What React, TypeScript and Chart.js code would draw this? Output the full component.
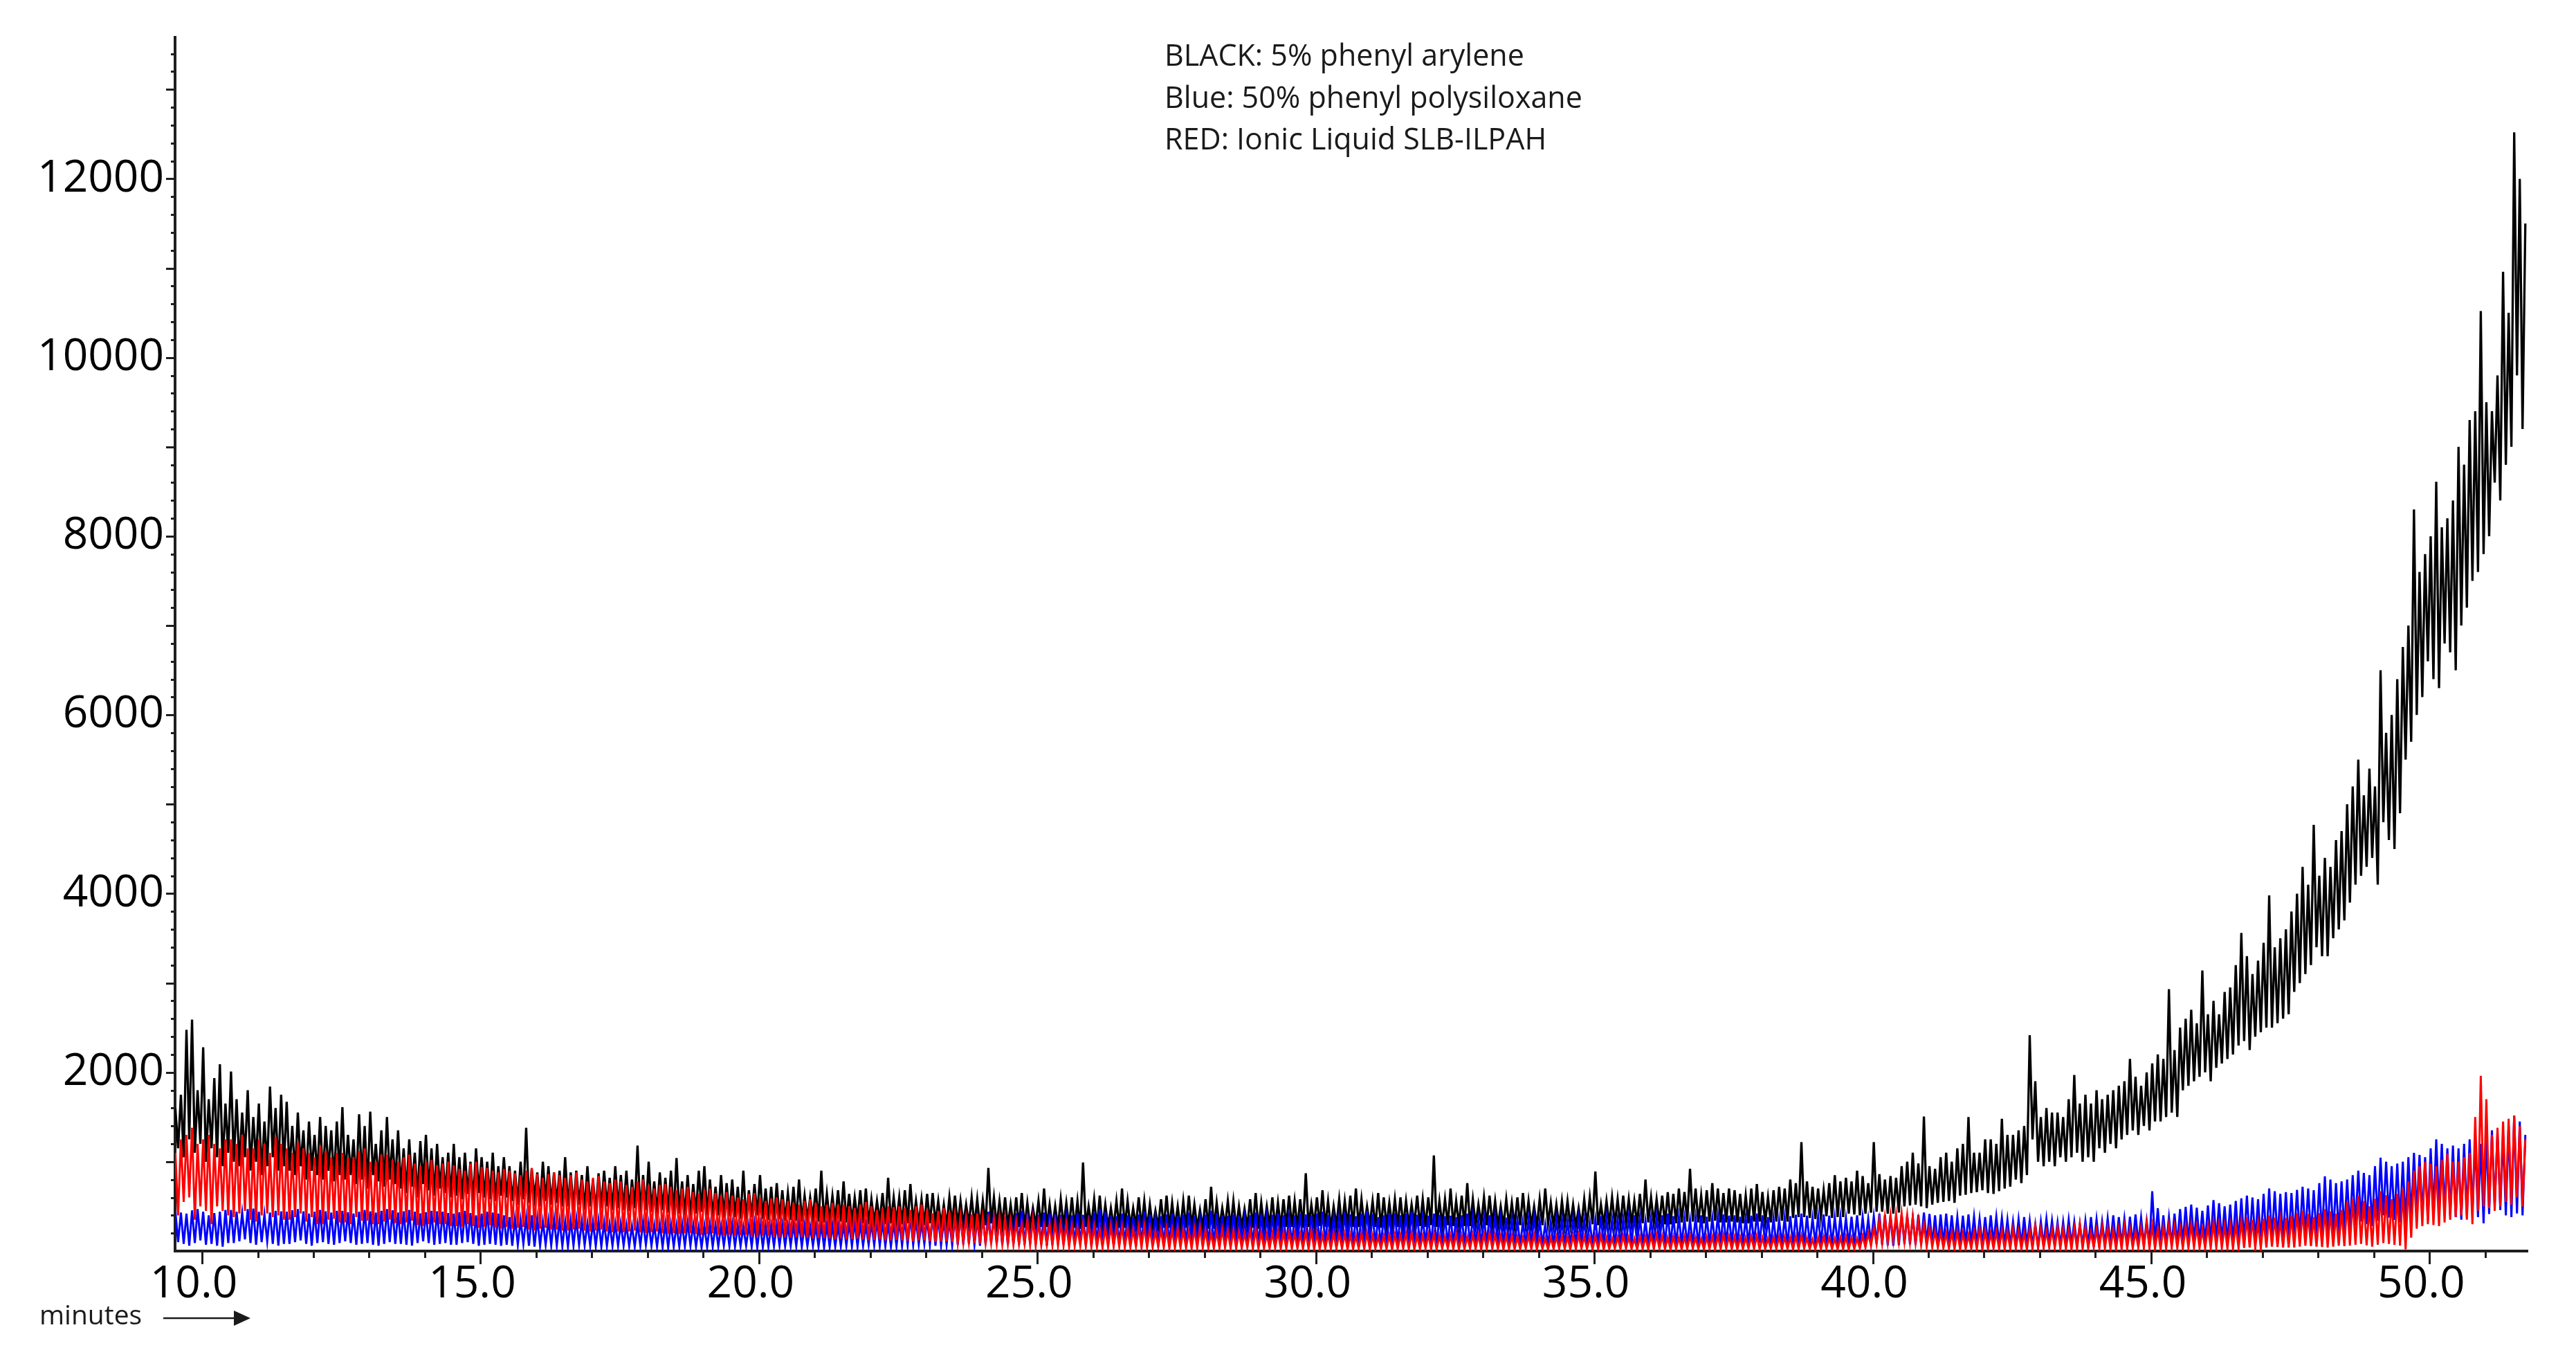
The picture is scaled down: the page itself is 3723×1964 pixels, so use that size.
import React, { useEffect, useRef } from "react";
import { Chart, registerables } from "chart.js";

Chart.register(...registerables);

// ---- axis settings ----
const T_START = 9.52;
const T_STEP = 0.05;
const X_MIN = 9.515;
const X_MAX = 51.76;
const Y_MAX = 13580;
const X_LABELS = [10, 15, 20, 25, 30, 35, 40, 45, 50];
const Y_LABELS = [2000, 4000, 6000, 8000, 10000, 12000];
const LEGEND_LINES = [
  "BLACK: 5% phenyl arylene",
  "Blue: 50% phenyl polysiloxane",
  "RED: Ionic Liquid SLB-ILPAH",
];
const X_TITLE = "minutes";

// ---- series values, one every 0.05 min starting at 9.52 min (one row = 1 min) ----
const BLACK = [
  1600,1150,1750,1050,2475,1250,2590,1100,1800,1200,2280,1000,1700,1150,1935,1050,2090,950,1650,1100,
  2010,1000,1700,950,1550,1050,1800,900,1500,1000,1650,850,1450,950,1840,1050,1600,900,1750,950,
  1670,900,1400,850,1550,950,1350,800,1450,900,1300,850,1500,800,1400,900,1350,780,1450,850,
  1610,800,1300,850,1250,750,1530,800,1400,700,1560,850,1200,780,1350,720,1500,800,1250,750,
  1350,700,1150,650,1250,720,1100,600,1230,750,1300,680,1150,620,1200,700,1050,650,1100,600,
  1200,620,1050,580,1100,640,1000,560,1150,650,1050,600,1000,580,1100,560,950,620,1050,600,
  950,560,900,520,1000,580,1380,540,920,600,880,500,1000,560,950,520,880,540,900,500,
  1050,500,880,480,900,520,850,460,950,500,800,450,870,480,900,500,820,460,950,480,
  850,460,900,450,800,480,1180,420,850,460,1000,440,780,420,880,460,820,430,900,400,
  1040,420,780,400,850,380,750,420,900,440,950,400,800,380,720,400,850,370,760,390,
  800,380,720,360,900,350,680,380,750,400,850,360,700,350,720,340,760,360,680,340,
  650,350,720,340,800,330,620,350,600,370,700,330,900,320,640,340,620,340,680,330,
  780,320,640,330,600,340,680,310,700,300,580,320,560,330,650,300,820,310,600,320,
  600,300,680,310,750,320,560,300,580,290,640,310,650,310,560,290,520,280,600,300,
  620,290,560,300,520,300,600,280,580,270,560,290,930,310,600,280,560,290,600,280,
  520,280,600,270,650,260,540,280,480,290,560,270,700,270,520,260,500,260,580,280,
  540,270,600,260,560,250,990,270,500,280,580,260,620,260,520,270,480,270,560,260,
  700,260,560,270,480,280,600,260,560,250,520,270,450,270,580,260,620,260,540,270,
  500,250,560,260,620,270,520,260,460,260,580,250,720,250,540,270,480,280,560,260,
  560,260,500,270,470,270,580,260,650,250,540,270,500,280,600,260,540,260,580,270,
  620,270,560,260,580,260,870,270,520,290,600,280,680,270,560,260,500,280,580,270,
  560,280,620,270,700,270,580,280,500,290,560,270,650,260,600,280,540,280,580,270,
  600,280,560,290,520,300,620,280,580,270,600,290,1070,270,560,290,580,290,700,280,
  560,290,620,280,760,280,580,290,520,300,600,290,620,290,560,280,500,280,580,290,
  540,280,600,290,650,290,560,280,500,270,580,290,700,300,540,280,520,280,560,290,
  560,290,520,280,480,280,580,290,600,300,890,290,520,290,560,300,600,300,580,290,
  620,310,580,300,560,300,640,310,800,320,600,310,580,310,620,300,660,300,640,310,
  700,320,660,330,920,330,700,320,620,310,680,330,760,340,700,320,650,320,700,330,
  680,320,640,310,620,310,700,330,750,330,660,320,600,320,680,330,720,340,700,330,
  800,370,760,380,1220,380,780,370,720,360,700,380,680,390,760,370,850,380,780,380,
  820,420,780,410,900,400,840,420,760,430,1220,440,860,440,800,420,840,420,820,430,
  950,500,1000,510,1100,520,980,500,1506,480,950,520,920,540,1050,550,1100,560,1000,540,
  1150,620,1200,630,1500,650,1100,660,1100,680,1250,650,1250,640,1200,670,1480,700,1300,720,
  1300,800,1350,760,1400,850,2415,1250,1900,1000,1500,950,1600,1000,1550,950,1550,1050,1500,1000,
  1700,1050,1970,1100,1650,1000,1750,1050,1650,1000,1800,1150,1700,1100,1750,1200,1800,1150,1850,1250,
  1900,1300,2150,1350,1950,1300,1850,1400,2000,1350,2100,1450,2200,1450,2150,1500,2930,1550,2250,1500,
  2500,1800,2600,1850,2700,1900,2550,1950,3140,2000,2650,1900,2800,2050,2650,2100,2900,2150,2950,2200,
  3200,2300,3560,2350,3300,2250,3100,2400,3250,2450,3450,2500,3980,2500,3400,2550,3500,2600,3600,2650,
  3800,2900,4000,3000,4300,3100,4100,3200,4770,3400,4200,3300,4400,3300,4300,3500,4600,3600,4700,3700,
  5000,3900,5200,4100,5500,4200,5100,4300,5400,4400,5200,4100,6500,4800,5800,4600,6000,4500,6400,4900,
  6760,5500,7000,5700,8300,6000,7600,6200,7800,6600,8000,6400,8610,6300,8100,6800,8200,6700,8400,6500,
  9000,7000,8800,7200,9300,7500,9400,7600,10520,7800,9500,8000,9400,8600,9800,8400,10960,8800,10500,9000,
  12520,9800,12000,9200,11500,
];

const BLUE = [
  450,100,430,80,420,60,455,90,470,120,440,70,400,80,425,60,440,50,460,90,
  460,90,440,110,430,130,470,90,475,70,440,100,410,110,430,80,450,60,445,80,
  440,80,455,100,470,120,445,80,420,60,440,90,460,100,445,80,430,70,450,90,
  450,110,435,90,420,70,440,80,460,90,445,70,430,60,450,80,470,100,455,80,
  430,80,445,70,460,60,440,90,420,110,435,90,450,70,445,80,440,90,425,70,
  420,70,435,90,450,100,425,80,400,60,420,70,440,80,430,70,420,60,400,70,
  380,60,365,70,350,80,375,60,400,50,365,60,330,70,345,65,360,60,340,55,
  330,50,345,60,360,70,335,65,310,60,325,55,340,50,320,55,300,60,310,60,
  310,60,295,55,280,50,305,60,330,70,310,60,290,50,300,45,310,40,300,50,
  290,50,305,55,320,60,295,50,270,40,285,45,300,50,290,55,280,60,290,55,
  300,50,285,55,270,60,290,50,310,40,295,45,280,50,285,55,290,60,295,55,
  280,60,295,55,310,50,290,55,270,60,285,50,300,40,295,45,290,50,285,55,
  300,60,315,55,330,50,310,60,290,70,315,65,340,60,325,55,310,50,320,55,
  340,60,360,65,380,70,350,75,320,80,360,70,400,60,375,65,350,70,345,65,
  380,70,400,75,420,80,390,70,360,60,400,75,440,90,415,80,390,70,385,70,
  400,80,425,75,450,70,415,80,380,90,405,75,430,60,420,70,410,80,405,75,
  380,70,400,80,420,90,405,75,390,60,430,70,470,80,435,75,400,70,390,75,
  420,80,400,70,380,60,410,75,440,90,405,80,370,70,390,75,410,80,415,80,
  390,70,410,75,430,80,395,85,360,90,405,75,450,60,425,65,400,70,395,70,
  410,80,390,75,370,70,400,65,430,60,410,75,390,90,405,85,420,80,400,75,
  380,70,400,75,420,80,410,70,400,60,420,75,440,90,405,80,370,70,375,70,
  430,80,410,75,390,70,420,80,450,90,415,75,380,60,400,70,420,80,425,80,
  400,70,420,80,440,90,405,85,370,80,395,70,420,60,405,65,390,70,395,70,
  380,60,400,70,420,80,385,75,350,70,375,80,400,90,385,75,370,60,375,65,
  360,70,345,65,330,60,355,70,380,80,340,75,300,70,325,65,350,60,355,65,
  340,60,355,70,370,80,345,75,320,70,355,65,390,60,370,65,350,70,355,65,
  360,70,380,80,400,90,370,75,340,60,360,70,380,80,400,75,420,70,390,70,
  380,80,365,75,350,70,375,65,400,60,385,75,370,90,390,85,410,80,395,80,
  400,70,385,75,370,80,395,85,420,90,400,75,380,60,365,65,350,70,375,70,
  390,80,405,70,420,60,395,75,370,90,390,80,410,70,395,75,380,80,385,80,
  370,70,385,75,400,80,380,85,360,90,390,80,420,70,405,65,390,60,380,65,
  410,80,395,75,380,70,405,80,430,90,415,75,400,60,410,70,420,80,400,75,
  380,70,395,75,410,80,385,70,360,60,380,75,400,90,385,80,370,70,350,65,
  330,60,355,65,380,70,340,60,300,50,330,65,360,80,340,70,320,60,325,65,
  350,70,325,65,300,60,340,55,380,50,355,60,330,70,365,65,400,60,380,65,
  360,60,385,70,410,80,375,75,340,70,670,90,480,80,400,70,380,70,420,75,
  470,80,495,90,520,100,485,95,450,90,510,100,570,110,535,100,500,90,520,95,
  560,100,590,110,620,120,600,115,580,110,640,120,700,130,670,125,640,120,660,125,
  650,150,685,160,720,170,700,165,680,160,760,170,835,180,800,190,760,200,780,220,
  800,250,850,290,900,330,875,300,850,280,950,340,1045,400,1000,375,950,350,980,320,
  1000,300,1050,360,1100,420,1075,385,1050,350,1150,425,1250,500,1200,450,1150,400,1180,380,
  1150,350,1200,400,1250,450,1225,380,1200,310,1275,415,1350,520,1325,460,1300,400,1400,380,
  1515,420,1450,400,1300,
];

const RED = [
  1100,400,1250,550,1300,600,1380,350,1200,500,1250,450,1300,300,1200,500,1150,450,1250,400,
  1250,380,1200,420,1300,450,1150,350,1150,330,1250,400,1200,420,1100,380,1280,400,1200,350,
  1150,350,1100,380,1220,420,1150,330,1100,380,1050,300,1180,300,1120,350,1050,360,1100,320,
  1100,320,1050,300,1050,380,1120,340,1150,340,1000,300,1000,300,1080,330,1080,350,1020,310,
  1000,300,1050,320,1080,340,980,290,950,280,1000,300,1020,320,960,300,980,300,1000,280,
  960,280,920,270,900,300,980,280,1000,260,940,270,930,290,900,260,880,250,920,270,
  900,250,870,260,850,270,900,240,930,230,860,250,820,260,860,240,880,240,850,230,
  820,230,850,240,880,250,800,230,780,220,820,230,840,240,780,220,760,210,800,220,
  780,210,740,220,720,230,780,210,800,200,740,210,700,220,740,200,750,190,720,200,
  680,190,700,200,720,200,660,190,640,180,680,190,700,200,650,180,620,170,660,180,
  620,170,600,175,580,180,640,165,650,160,600,170,560,170,590,160,600,150,580,160,
  560,150,540,155,520,160,560,150,580,140,540,145,500,150,520,140,540,130,520,140,
  520,130,500,135,480,140,520,130,550,120,500,125,460,130,480,120,500,120,490,125,
  500,120,480,115,460,110,500,120,520,120,470,110,420,100,450,105,480,110,440,100,
  400,90,390,95,370,100,410,90,420,80,380,85,340,90,360,85,380,80,360,80,
  340,70,320,75,300,80,350,70,360,60,320,65,280,70,300,65,320,60,310,60,
  300,50,280,55,260,60,300,50,310,50,270,45,240,40,260,45,280,50,270,50,
  270,40,250,45,240,50,270,40,280,40,250,45,220,50,240,40,250,30,240,35,
  250,40,235,35,220,30,250,35,260,40,230,35,200,30,220,35,240,40,230,35,
  230,30,215,35,200,40,230,30,240,30,210,30,190,30,205,35,220,30,210,30,
  210,30,200,30,190,30,215,25,230,20,200,25,180,30,190,30,200,30,195,30,
  190,20,180,25,170,30,195,25,200,20,175,30,160,30,170,25,180,20,185,25,
  180,30,195,25,200,20,175,25,170,30,185,25,190,20,170,30,160,30,175,25,
  190,20,170,25,160,30,180,25,180,20,190,25,200,30,180,25,170,20,175,25,
  170,20,160,25,150,30,175,25,180,20,155,25,140,20,150,25,160,30,165,25,
  160,20,170,25,180,30,160,25,150,20,165,25,170,20,150,25,140,30,155,25,
  170,30,155,25,140,20,160,25,160,20,175,25,180,30,165,25,150,20,160,25,
  150,20,160,25,170,30,150,25,140,20,155,25,160,20,170,25,180,30,165,25,
  160,20,155,25,150,30,165,25,170,20,150,25,140,30,150,25,160,20,155,25,
  150,20,165,25,170,30,145,25,130,20,150,25,160,30,150,25,140,20,150,25,
  160,20,150,25,140,30,170,40,200,60,260,80,350,90,380,100,400,120,410,115,
  420,110,400,100,380,90,340,70,300,50,260,45,220,40,210,35,200,30,210,25,
  220,20,200,25,180,30,215,25,250,20,225,25,200,30,215,25,230,20,220,25,
  250,30,225,25,200,20,240,25,280,30,250,35,220,40,240,35,260,30,245,25,
  230,20,260,25,300,30,255,35,210,40,240,35,270,30,255,25,240,20,250,25,
  280,30,250,35,220,40,265,35,310,30,280,25,250,20,270,30,290,40,275,35,
  260,30,280,35,300,40,270,35,240,30,280,35,320,40,300,35,280,30,290,30,
  300,30,340,35,380,40,350,35,320,30,360,40,400,50,375,45,350,40,370,40,
  400,40,425,50,450,60,415,55,380,50,425,45,470,40,445,50,420,60,460,55,
  550,60,585,70,620,80,560,65,500,50,585,70,670,90,625,80,580,70,640,60,
  700,20,780,150,900,250,950,280,1000,300,975,290,950,280,1020,320,1090,350,1000,380,
  1000,400,1050,350,1100,300,1500,450,1960,500,1700,480,1300,450,1380,500,1450,550,1480,520,
  1516,600,1400,500,1250,
];

const toPoints = (vals: number[]) =>
  vals.map((y, i) => ({ x: Math.round((T_START + i * T_STEP) * 1000) / 1000, y }));

const AXIS_COLOR = "#1e1e1e";

const tickMarks = {
  id: "tickMarks",
  afterDraw(chart: any) {
    const { ctx, chartArea, scales } = chart;
    const xs = scales.x;
    const ys = scales.y;
    ctx.save();
    ctx.strokeStyle = AXIS_COLOR;
    ctx.lineWidth = 3;
    ctx.beginPath();
    for (let v = 200; v < Y_MAX; v += 200) {
      const py = Math.round(ys.getPixelForValue(v)) + 0.5;
      const len = v % 1000 === 0 ? 13 : 6;
      ctx.moveTo(chartArea.left - len, py);
      ctx.lineTo(chartArea.left, py);
    }
    for (let m = 10; m <= 51; m++) {
      const px = Math.round(xs.getPixelForValue(m)) + 0.5;
      const len = m % 5 === 0 ? 19 : 10;
      ctx.moveTo(px, chartArea.bottom);
      ctx.lineTo(px, chartArea.bottom + len);
    }
    ctx.stroke();
    ctx.restore();
  },
};

export default function App() {
  const canvasRef = useRef<HTMLCanvasElement | null>(null);

  useEffect(() => {
    if (!canvasRef.current) return;
    const lineDs = (label: string, vals: number[], color: string, width: number) => ({
      label,
      data: toPoints(vals),
      borderColor: color,
      borderWidth: width,
      pointRadius: 0,
      tension: 0,
    });
    const chart = new Chart(canvasRef.current, {
      type: "line",
      data: {
        datasets: [
          lineDs("RED: Ionic Liquid SLB-ILPAH", RED, "#ff0000", 3),
          lineDs("Blue: 50% phenyl polysiloxane", BLUE, "#0000ff", 3),
          lineDs("BLACK: 5% phenyl arylene", BLACK, "#000000", 3.3),
        ],
      },
      options: {
        animation: false,
        responsive: true,
        maintainAspectRatio: false,
        parsing: false,
        normalized: true,
        layout: { padding: { top: 53, right: 70, bottom: 0, left: 0 } },
        plugins: { legend: { display: false }, tooltip: { enabled: false }, title: { display: false } },
        scales: {
          x: {
            type: "linear",
            min: X_MIN,
            max: X_MAX,
            afterFit: (s: any) => { s.height = 156; },
            afterBuildTicks: (s: any) => { s.ticks = X_LABELS.map((v) => ({ value: v })); },
            grid: { display: false, drawTicks: false },
            border: { display: true, color: AXIS_COLOR, width: 4 },
            ticks: {
              autoSkip: false,
              maxRotation: 0,
              padding: 10,
              labelOffset: -12,
              color: "#000",
              font: { family: "'Open Sans'", size: 64 },
              callback: (v: any) => Number(v).toFixed(1),
            },
          },
          y: {
            type: "linear",
            min: 0,
            max: Y_MAX,
            afterFit: (s: any) => { s.width = 253; },
            afterBuildTicks: (s: any) => { s.ticks = Y_LABELS.map((v) => ({ value: v })); },
            grid: { display: false, drawTicks: false },
            border: { display: true, color: AXIS_COLOR, width: 4 },
            ticks: {
              autoSkip: false,
              padding: 16,
              color: "#000",
              font: { family: "'Open Sans'", size: 64 },
              callback: (v: any) => String(v),
            },
          },
        },
      },
      plugins: [tickMarks],
    });
    return () => chart.destroy();
  }, []);

  const legendBase = [96, 156.5, 217];

  return (
    <div style={{ position: "fixed", left: 0, top: 0, width: 3723, height: 1964, background: "#fff" }}>
      <canvas ref={canvasRef} />
      {LEGEND_LINES.map((t, i) => (
        <div
          key={i}
          style={{
            position: "absolute",
            left: 1683,
            top: legendBase[i] - 47,
            fontFamily: "'Open Sans'",
            fontSize: 43,
            lineHeight: "60.5px",
            color: "#1a1a1a",
            whiteSpace: "nowrap",
          }}
        >
          {t}
        </div>
      ))}
      <div
        style={{
          position: "absolute",
          left: 57,
          top: 1879,
          fontFamily: "'Open Sans'",
          fontSize: 39,
          lineHeight: "39px",
          color: "#1a1a1a",
          whiteSpace: "nowrap",
        }}
      >
        {X_TITLE}
      </div>
      <svg style={{ position: "absolute", left: 230, top: 1890 }} width={140} height={30}>
        <line x1={6} y1={15} x2={112} y2={15} stroke="#1a1a1a" strokeWidth={2.5} />
        <polygon points="108,4 132,15 108,26" fill="#1a1a1a" />
      </svg>
    </div>
  );
}
